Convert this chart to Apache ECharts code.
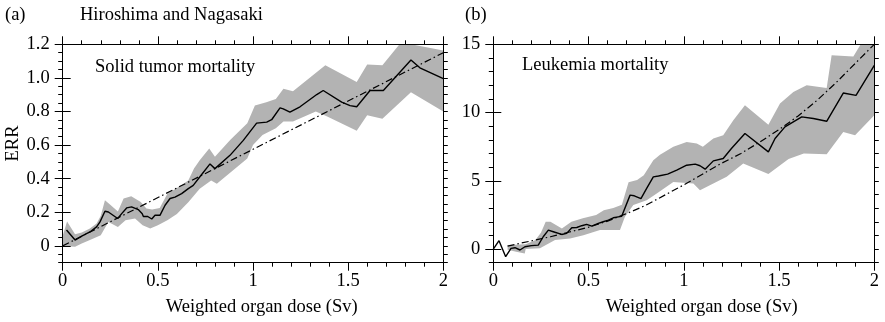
<!DOCTYPE html>
<html>
<head>
<meta charset="utf-8">
<script src="https://cdn.jsdelivr.net/npm/echarts@6/dist/echarts.min.js"></script>
<style>
html,body{margin:0;padding:0;background:#fff;}
#chart{width:885px;height:322px;}
</style>
</head>
<body>
<div id="chart"></div>
<script>
// ---------- Data ----------
// Panel (a): solid tumor mortality, ERR vs dose (Sv)
const aCentral = [[0.02,0.095],[0.065,0.035],[0.1,0.058],[0.143,0.083],[0.178,0.113],[0.196,0.143],[0.222,0.206],[0.24,0.202],[0.289,0.163],[0.31,0.192],[0.336,0.226],[0.362,0.232],[0.397,0.216],[0.418,0.192],[0.424,0.175],[0.447,0.175],[0.468,0.16],[0.485,0.182],[0.511,0.182],[0.538,0.242],[0.564,0.282],[0.59,0.29],[0.625,0.311],[0.66,0.341],[0.686,0.36],[0.72,0.41],[0.774,0.488],[0.8,0.46],[0.879,0.539],[0.949,0.628],[1.019,0.731],[1.072,0.737],[1.098,0.751],[1.142,0.822],[1.159,0.816],[1.194,0.796],[1.247,0.828],[1.335,0.901],[1.369,0.925],[1.466,0.856],[1.51,0.835],[1.545,0.828],[1.615,0.925],[1.685,0.925],[1.83,1.107],[1.877,1.06],[2.0,0.995]];
const aUpper = [[0.0,0.06],[0.023,0.145],[0.065,0.07],[0.1,0.08],[0.143,0.103],[0.178,0.133],[0.2,0.18],[0.222,0.272],[0.25,0.245],[0.29,0.205],[0.32,0.282],[0.36,0.295],[0.41,0.262],[0.44,0.222],[0.47,0.216],[0.51,0.226],[0.55,0.311],[0.6,0.345],[0.66,0.39],[0.69,0.46],[0.72,0.51],[0.77,0.58],[0.8,0.53],[0.88,0.63],[0.97,0.73],[1.01,0.835],[1.07,0.855],[1.12,0.875],[1.16,0.935],[1.21,0.92],[1.38,1.075],[1.545,0.975],[1.6,1.08],[1.68,1.075],[1.77,1.2],[1.83,1.2],[2.0,1.163]];
const aLower = [[0.0,0.0],[0.065,-0.005],[0.1,0.014],[0.14,0.034],[0.2,0.064],[0.24,0.143],[0.29,0.113],[0.33,0.153],[0.38,0.163],[0.42,0.123],[0.46,0.103],[0.5,0.123],[0.55,0.153],[0.6,0.19],[0.66,0.26],[0.72,0.34],[0.78,0.39],[0.81,0.37],[0.97,0.52],[1.0,0.6],[1.05,0.66],[1.12,0.7],[1.16,0.74],[1.21,0.74],[1.33,0.8],[1.39,0.77],[1.545,0.685],[1.6,0.777],[1.68,0.757],[1.83,0.915],[2.0,0.8]];
const aFit = [[0.0,0.0],[2.0,1.15]];

// Panel (b): leukemia mortality
const bCentral = [[0,0],[0.03,0.61],[0.065,-0.56],[0.093,0.05],[0.114,0.1],[0.14,-0.07],[0.166,0.17],[0.2,0.25],[0.236,0.29],[0.262,0.9],[0.289,1.39],[0.315,1.27],[0.359,1.07],[0.385,1.15],[0.412,1.56],[0.438,1.58],[0.464,1.71],[0.49,1.81],[0.517,1.68],[0.551,1.88],[0.577,2.0],[0.604,2.12],[0.63,2.29],[0.656,2.36],[0.674,2.4],[0.718,3.95],[0.74,3.9],[0.775,3.7],[0.805,4.44],[0.84,5.29],[0.867,5.35],[0.915,5.49],[0.963,5.78],[1.015,6.14],[1.06,6.22],[1.085,6.1],[1.112,5.85],[1.155,6.46],[1.207,6.63],[1.25,7.37],[1.321,8.46],[1.444,7.12],[1.479,8.1],[1.531,8.95],[1.619,9.68],[1.68,9.56],[1.75,9.36],[1.837,11.43],[1.904,11.26],[2.0,13.46]];
const bUpper = [[0.075,0.3],[0.17,0.35],[0.22,0.65],[0.25,1.2],[0.275,2.0],[0.3,2.0],[0.36,1.5],[0.41,2.0],[0.47,2.25],[0.54,2.5],[0.58,2.85],[0.63,3.0],[0.675,3.25],[0.71,4.9],[0.755,5.05],[0.79,5.4],[0.84,6.5],[0.875,6.9],[0.945,7.5],[1.015,7.85],[1.068,7.73],[1.1,7.5],[1.155,8.1],[1.207,8.34],[1.26,9.44],[1.321,10.53],[1.444,9.1],[1.505,10.66],[1.575,11.5],[1.645,12.0],[1.75,11.8],[1.776,14.2],[1.89,14.1],[1.95,15.5],[2.0,16.5]];
const bLower = [[0.075,-0.05],[0.12,-0.2],[0.165,-0.32],[0.17,0.0],[0.245,0.05],[0.324,0.66],[0.403,0.78],[0.473,1.02],[0.56,1.39],[0.665,1.39],[0.691,2.36],[0.735,3.22],[0.805,3.58],[0.858,4.07],[0.945,4.92],[1.05,4.8],[1.085,4.3],[1.225,5.29],[1.312,6.27],[1.444,5.5],[1.55,6.6],[1.63,7.0],[1.75,6.95],[1.837,8.58],[1.899,8.34],[2.0,9.8]];
const bFit = [[0.075,0.22],[0.2,0.6],[0.3,0.9],[0.4,1.25],[0.5,1.6],[0.6,2.05],[0.7,2.6],[0.8,3.2],[0.9,3.95],[1.0,4.7],[1.1,5.5],[1.2,6.3],[1.3,7.0],[1.4,7.85],[1.5,8.75],[1.6,9.75],[1.7,10.9],[1.8,12.2],[1.9,13.6],[2.0,15.0]];

// Tick labels
const xTicks = [0, 0.5, 1, 1.5, 2];
const aYTicks = [0, 0.2, 0.4, 0.6, 0.8, 1.0, 1.2];
const bYTicks = [0, 5, 10, 15];

// ---------- Styling ----------
const FONT = 'Liberation Serif';
const FS = 18.5;
const BLACK = '#000';
const BAND = '#b3b3b3';

const chart = echarts.init(document.getElementById('chart'), null, {renderer: 'canvas'});

function xAxisDef(grid, pos, showLabel, nameShift) {
  return {
    type: 'value', gridIndex: grid, position: pos, min: 0, max: 2, interval: 0.5, z: 10,
    axisLine: {show: true, onZero: false, lineStyle: {color: BLACK, width: 1}},
    axisTick: {show: true, inside: false, length: 8, lineStyle: {color: BLACK, width: 1}},
    minorTick: {show: true, splitNumber: 5, length: 4, lineStyle: {color: BLACK, width: 1}},
    splitLine: {show: false},
    axisLabel: {show: showLabel, margin: 9, fontFamily: FONT, fontSize: FS, color: BLACK,
      customValues: xTicks, formatter: v => String(+(+v).toFixed(2))},
    name: showLabel ? 'Weighted organ dose (Sv)' : '',
    nameLocation: 'middle', nameGap: 35,
    nameTextStyle: {fontFamily: FONT, fontSize: FS, color: BLACK, padding: [0, 0, 0, nameShift || 0]}
  };
}
function yMinorDef(grid, pos, min, max, step) {
  return {
    type: 'value', gridIndex: grid, position: pos, min: min, max: max, interval: step, z: 10,
    axisLine: {show: true, onZero: false, lineStyle: {color: BLACK, width: 1}},
    axisTick: {show: true, inside: false, length: 4.5, lineStyle: {color: BLACK, width: 1}},
    splitLine: {show: false},
    axisLabel: {show: false}
  };
}
function yMajorDef(grid, pos, min, max, majors, showLabel, fmt, name) {
  return {
    type: 'value', gridIndex: grid, position: pos, min: min, max: max, z: 11,
    axisLine: {show: false},
    axisTick: {show: true, inside: false, length: 8, customValues: majors, lineStyle: {color: BLACK, width: 1}},
    splitLine: {show: false},
    axisLabel: {show: showLabel, customValues: majors, margin: 13, fontFamily: FONT, fontSize: FS, color: BLACK, formatter: fmt},
    name: name || '', nameLocation: 'middle', nameGap: 40, nameRotate: 90,
    nameTextStyle: {fontFamily: FONT, fontSize: FS, color: BLACK, padding: [0, 0, 0, 20]}
  };
}

function bandSeries(xi, yi, upper, lower) {
  return {
    type: 'custom', xAxisIndex: xi, yAxisIndex: yi, z: 1, silent: true,
    data: [0],
    renderItem: function (params, api) {
      const pts = upper.map(p => api.coord(p)).concat(lower.slice().reverse().map(p => api.coord(p)));
      const cs = params.coordSys;
      return {
        type: 'polygon',
        shape: {points: pts},
        style: {fill: BAND, stroke: null},
        clipPath: {type: 'rect', shape: {x: cs.x, y: cs.y, width: cs.width, height: cs.height}}
      };
    }
  };
}
function lineSeries(xi, yi, data, dashed) {
  return {
    type: 'line', xAxisIndex: xi, yAxisIndex: yi, data: data, z: 3,
    showSymbol: false, symbol: 'none', smooth: false, clip: true, silent: true,
    lineStyle: {color: BLACK, width: dashed ? 1.2 : 1.4, type: dashed ? [7, 3, 1.5, 3] : 'solid'}
  };
}

const txt = (x, y, s) => ({type: 'text', left: x, top: y,
  style: {text: s, fontFamily: FONT, fontSize: FS, fill: BLACK}});

const option = {
  animation: false,
  backgroundColor: '#fff',
  textStyle: {fontFamily: FONT, fontSize: FS, color: BLACK},
  grid: [
    {left: 62.7, top: 44.3, width: 380.6, height: 218.4, outerBoundsMode: 'none', containLabel: false},
    {left: 493.3, top: 44.3, width: 381, height: 218.4, outerBoundsMode: 'none', containLabel: false}
  ],
  xAxis: [
    xAxisDef(0, 'bottom', true, 17.4),
    xAxisDef(0, 'top', false),
    xAxisDef(1, 'bottom', true, 35.8),
    xAxisDef(1, 'top', false)
  ],
  yAxis: [
    yMinorDef(0, 'left', -0.1, 1.2, 0.05),
    yMajorDef(0, 'left', -0.1, 1.2, aYTicks, true, v => (Math.abs(v) < 1e-9 ? '0' : (+v).toFixed(1)), 'ERR'),
    yMinorDef(0, 'right', -0.1, 1.2, 0.05),
    yMajorDef(0, 'right', -0.1, 1.2, aYTicks, false, null),
    yMinorDef(1, 'left', -1, 15, 1),
    yMajorDef(1, 'left', -1, 15, bYTicks, true, v => String(Math.round(v))),
    yMinorDef(1, 'right', -1, 15, 1),
    yMajorDef(1, 'right', -1, 15, bYTicks, false, null)
  ],
  graphic: [
    txt(5, 6, '(a)'),
    txt(80, 6, 'Hiroshima and Nagasaki'),
    txt(465, 6, '(b)'),
    txt(95, 58, 'Solid tumor mortality'),
    txt(522, 56, 'Leukemia mortality')
  ],
  series: [
    bandSeries(0, 0, aUpper, aLower),
    lineSeries(0, 0, aFit, true),
    lineSeries(0, 0, aCentral, false),
    bandSeries(2, 4, bUpper, bLower),
    lineSeries(2, 4, bFit, true),
    lineSeries(2, 4, bCentral, false)
  ]
};
chart.setOption(option);
</script>
</body>
</html>
